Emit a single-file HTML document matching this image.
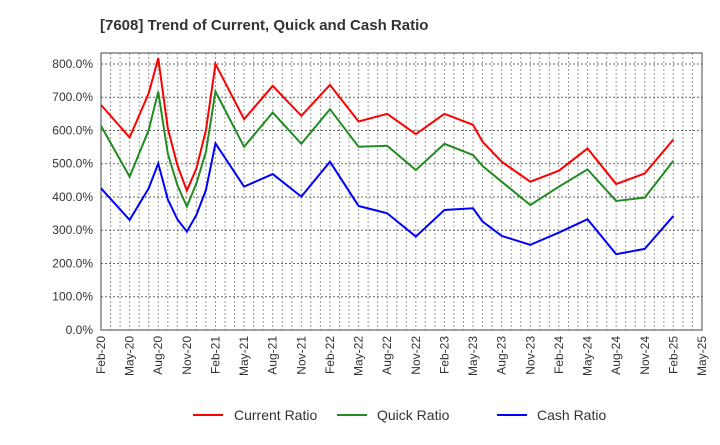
<!DOCTYPE html>
<html><head><meta charset="utf-8"><style>
body{margin:0;background:#fff;font-family:"Liberation Sans",sans-serif}
svg text{font-family:"Liberation Sans",sans-serif;fill:#333}
</style></head><body>
<svg id="chart" width="720" height="440">
<text x="100" y="30" font-size="15" font-weight="bold">[7608]  Trend of Current, Quick and Cash Ratio</text>
<g id="grid"></g><g id="axes"></g><g id="series"></g>
<g id="legend">
<line x1="193" y1="415" x2="223" y2="415" stroke="#ff0000" stroke-width="2"/>
<text x="234" y="420" font-size="14">Current Ratio</text>
<line x1="337" y1="415" x2="367" y2="415" stroke="#228b22" stroke-width="2"/>
<text x="377" y="420" font-size="14">Quick Ratio</text>
<line x1="497" y1="415" x2="527" y2="415" stroke="#0000ff" stroke-width="2"/>
<text x="537" y="420" font-size="14">Cash Ratio</text>
</g>
</svg>
<script>
const monthIdx=[0,3,5,6,7,8,9,10,11,12,15,18,21,24,27,30,33,36,39,40,42,45,48,51,54,57,60];
const currentRatio=[677,579,712,817,607,496,419,486,601,800,634,734,644,737,627,650,589,650,617,566,506,446,479,546,439,471,573];
const quickRatio=[614,461,601,717,531,436,371,441,536,717,551,654,560,664,551,554,481,560,526,493,446,376,431,483,388,398,509];
const cashRatio=[426,331,426,501,393,333,296,346,421,561,431,469,401,506,373,351,281,361,366,326,283,256,293,333,228,244,343];
const yTicks=[0,100,200,300,400,500,600,700,800];
const xTickLabels=["Feb-20","May-20","Aug-20","Nov-20","Feb-21","May-21","Aug-21","Nov-21","Feb-22","May-22","Aug-22","Nov-22","Feb-23","May-23","Aug-23","Nov-23","Feb-24","May-24","Aug-24","Nov-24","Feb-25","May-25"];
const L=101,R=702,T=53,B=330,YMAX=833,NM=63;
const xs=i=>L+(R-L)*i/NM, ys=v=>B-(B-T)*v/YMAX;
const NS="http://www.w3.org/2000/svg";
function mk(tag,attrs,parent){const e=document.createElementNS(NS,tag);for(const k in attrs)e.setAttribute(k,attrs[k]);document.getElementById(parent).appendChild(e);return e;}
for(let m=1;m<NM;m++){
const g=mk('line',{x1:xs(m),x2:xs(m),y1:T,y2:B,stroke:'#999','stroke-dasharray':'2,2','stroke-width':1},'grid');


}
yTicks.forEach(v=>{
if(v>0){const g=mk('line',{x1:L,x2:R,y1:ys(v),y2:ys(v),stroke:'#666','stroke-dasharray':'2,2','stroke-width':1},'grid');

}
const t=mk('text',{x:L-8,y:ys(v)+4,'font-size':12,'text-anchor':'end'},'axes');t.textContent=v.toFixed(1)+'%';


});
xTickLabels.forEach((s,i)=>{
const x=xs(i*3);
const t=mk('text',{x:0,y:0,'font-size':12,'text-anchor':'end',transform:`translate(${x+4},${B+6}) rotate(-90)`},'axes');t.textContent=s;


});
const fr=mk('rect',{x:L,y:T,width:R-L,height:B-T,fill:'none',stroke:'#444','stroke-width':1},'axes');


[[currentRatio,'#ff0000','current-ratio-line'],[quickRatio,'#228b22','quick-ratio-line'],[cashRatio,'#0000ff','cash-ratio-line']].forEach(([d,c,n])=>{
const p=mk('polyline',{points:d.map((v,i)=>xs(monthIdx[i])+','+ys(v)).join(' '),fill:'none',stroke:c,'stroke-width':2},'series');


});
</script>
</body></html>
